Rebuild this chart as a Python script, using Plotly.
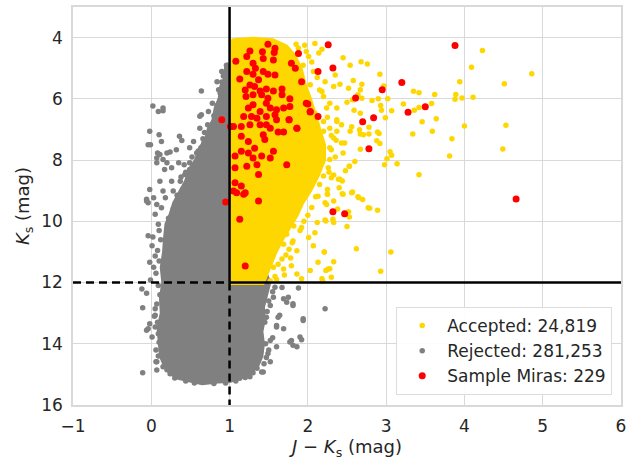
import plotly.graph_objects as go

# Selection thresholds
COLOR_CUT = 1.0   # J - Ks
MAG_CUT = 12.0    # Ks

# Dense core of the rejected sources (outline of the saturated region)
rejected_core_x = [1.0, 0.96, 0.94, 0.90, 0.88, 0.83, 0.80, 0.74, 0.70, 0.63, 0.58, 0.50,
                   0.45, 0.38, 0.30, 0.25, 0.20, 0.18, 0.17, 0.14, 0.16, 0.13, 0.14, 0.10,
                   0.12, 0.13, 0.18, 0.25, 0.35, 0.50, 0.65, 0.85, 1.00, 1.12, 1.25, 1.35,
                   1.40, 1.42, 1.40, 1.43, 1.42, 1.46, 1.50, 1.2, 1.0]
rejected_core_y = [4.85, 5.0, 5.4, 5.6, 6.0, 6.3, 6.7, 7.0, 7.4, 7.6, 8.0, 8.3,
                   8.7, 9.0, 9.4, 9.8, 10.1, 10.6, 11.0, 11.5, 12.0, 12.5, 13.0, 13.5,
                   14.0, 14.4, 14.7, 14.95, 15.1, 15.2, 15.27, 15.22, 15.2, 15.1, 14.95, 14.7,
                   14.4, 14.0, 13.6, 13.2, 12.8, 12.4, 12.0, 10.0, 6.0]

# Isolated rejected sources
rejected_x = [0.02, 0.09, 0.15, 0.15, -0.02, -0.01, 0.10, 0.13, 0.36, 0.39, 0.62, 0.64, 0.78,
              0.84, 0.88, 0.75, 0.49, 0.58, 0.54, 0.08, 0.11, 0.20, 0.24, 0.32, 0.15, 0.07,
              0.20, 0.17, 0.26, 0.35, 0.49, 0.49, 0.43, 0.26, 0.37, 0.11, -0.02, -0.06, 0.03,
              0.07, 0.15, 0.28, 0.18, 0.05, 0.13, 0.09, -0.04, -0.06, -0.04, 0.07, 0.64,
              0.84, 0.90, 0.96, 0.62, 0.73,
              -0.04, 0.02, 0.01, 0.05, -0.02, 0.03, -0.01, -0.12, -0.06, -0.11, 0.05, -0.02,
              -0.04, 0.05, 0.01, 0.09, 0.06, -0.11, -0.06,
              1.52, 1.73, 1.81, 1.94, 1.69, 1.60, 1.62, 1.47, 1.86, 1.92, 1.77, 1.60, 1.52,
              1.49, 1.52, 1.41, 1.26, 1.13, 0.07, 0.07, 0.05,
              1.69, 1.81, 1.94, 1.64, 1.60, 1.79, 1.90, 1.81, 1.43,
              1.67, 1.88, 1.75, 1.56, 2.22,
              0.42, 0.52, 0.60, 0.67, 0.56, 0.46, 0.40, 0.33, 0.28, 0.22, 0.30, 0.38, 0.44,
              0.68, 0.72, 0.80, 0.66, 0.90, 0.92, 0.86,
              0.10, 0.12, 0.08, 0.10, 0.06, 0.09, 0.11, 0.07, 0.04, 0.08, 0.10, 0.06, 0.09,
              0.20, 0.24, 0.30, 0.15, 0.44, 0.55, 0.80, 0.95, 1.08, 1.20, 1.30, 1.35,
              1.47, 1.50, 1.55, 1.45, 1.48, 1.55, 1.58, 1.50, 1.46, 1.44]
rejected_y = [6.23, 6.41, 6.30, 6.39, 7.06, 7.50, 7.17, 7.39, 7.22, 7.36, 6.57, 6.52, 6.14,
              6.22, 5.82, 6.96, 7.60, 7.77, 7.39, 7.77, 7.82, 7.77, 7.74, 7.66, 7.98, 8.09,
              8.09, 8.31, 8.25, 8.09, 8.09, 8.31, 8.47, 8.69, 8.69, 8.69, 8.96, 9.34, 9.23,
              9.45, 9.01, 9.01, 9.23, 9.77, 9.56, 10.10, 7.50, 9.28, 9.39, 7.93, 5.74,
              5.44, 5.11, 4.90, 6.96, 6.41,
              10.47, 10.51, 10.80, 11.13, 11.34, 11.50, 11.92, 12.21, 12.35, 12.82, 12.86, 13.35,
              13.51, 13.45, 13.78, 13.67, 14.59, 14.95, 13.56,
              12.75, 12.64, 12.75, 13.24, 13.51, 13.40, 13.13, 13.13, 14.10, 13.87, 13.94, 14.10, 13.89,
              14.32, 14.59, 14.92, 15.08, 15.13, 14.59, 14.86, 13.07,
              12.53, 12.69, 13.18, 13.07, 13.45, 13.89, 13.78, 14.05, 14.92,
              12.16, 12.18, 12.48, 12.48, 12.86,
              8.15, 7.90, 7.70, 7.45, 8.45, 8.80, 8.95, 9.15, 9.60, 9.90, 9.70, 8.55, 8.40,
              7.10, 6.85, 6.55, 7.30, 5.45, 5.25, 5.70,
              10.30, 10.60, 10.95, 11.30, 11.70, 12.10, 12.40, 12.70, 13.10, 13.30, 13.95, 14.20, 14.40,
              14.85, 14.98, 15.12, 14.75, 15.22, 15.28, 15.30, 15.28, 15.22, 15.10, 14.95, 14.80,
              14.45, 14.20, 13.80, 13.30, 12.95, 12.30, 12.15, 12.60, 14.00, 14.65]

# Dense core of the accepted sources
accepted_core_x = [1.0, 1.05, 1.3, 1.55, 1.72, 1.82, 1.90, 1.95, 2.02, 2.08, 2.15, 2.20,
                   2.20, 2.12, 2.02, 1.92, 1.85, 1.75, 1.66, 1.58, 1.52, 1.47, 1.42, 1.0]
accepted_core_y = [4.2, 4.1, 4.05, 4.1, 4.3, 4.6, 5.0, 5.5, 6.0, 6.5, 7.0, 7.5,
                   8.0, 8.5, 9.0, 9.4, 9.8, 10.2, 10.6, 11.0, 11.4, 11.7, 12.0, 12.0]

# Isolated accepted sources
accepted_x = [4.23, 4.09, 4.86, 4.51, 3.94, 3.89, 3.88, 3.97, 4.11, 4.53, 4.49, 4.00, 3.84,
              3.81, 3.42, 3.64, 3.59, 3.58, 3.62, 3.35, 3.42, 3.22, 3.36, 3.42, 3.46, 3.34,
              3.07, 3.02, 2.99, 2.97, 2.92, 2.93, 2.94, 2.90, 2.82, 2.91, 2.92, 2.88, 3.05,
              3.07, 3.01, 2.98, 3.14, 2.78, 2.78, 2.71, 2.67, 2.66, 2.67, 2.56, 2.53, 2.76,
              2.68, 2.54, 2.45, 2.58, 2.69, 2.67, 2.69, 2.59, 2.59, 2.67, 2.89,
              2.57, 2.44, 2.65, 2.70, 2.77, 2.79, 2.89, 2.53, 2.52, 2.50, 2.39, 2.44, 2.33,
              2.25, 2.33, 2.22, 2.25, 2.23, 2.32,
              2.21, 2.62, 3.06, 2.93, 2.33, 2.28, 2.23, 2.19,
              2.13, 2.25, 2.24, 2.12, 2.22, 2.33, 2.09, 2.01, 1.92, 1.82, 2.21, 2.13, 2.26,
              2.03, 1.86, 1.79, 1.69, 1.67, 1.56, 1.76, 1.69, 1.64, 1.73, 1.81, 1.86, 2.07,
              2.30, 2.18, 1.92,
              2.09, 2.18, 2.35, 2.41, 2.52, 2.64, 2.57, 2.50, 2.37, 2.28, 2.20, 2.15, 2.37,
              2.43, 2.54, 2.37, 2.28, 2.20, 2.33, 2.47, 2.45, 2.30, 2.28, 2.26, 2.30, 2.20,
              2.41, 2.53, 2.45, 2.56, 2.64,
              2.01, 1.94, 2.07, 2.22, 2.18, 2.33, 2.03, 1.98, 2.09, 2.24, 2.37, 2.43, 2.20,
              2.18,
              1.88, 1.98, 2.05, 2.12, 2.25, 2.30, 2.35, 2.27, 2.15, 2.10, 2.05, 2.00, 1.95,
              1.90, 1.80, 1.72, 1.62, 1.58, 1.70, 1.78, 1.60, 1.52, 2.40, 2.48, 2.60, 2.38,
              2.14, 1.96, 1.85, 2.28, 2.36]
accepted_y = [4.42, 4.97, 5.18, 5.51, 5.44, 5.86, 6.01, 5.97, 5.95, 6.86, 7.64, 6.89, 7.30,
              7.87, 8.48, 6.65, 7.06, 6.15, 5.86, 5.75, 5.80, 6.17, 6.37, 6.28, 6.75, 7.15,
              6.39, 6.00, 6.62, 5.58, 5.20, 6.22, 6.37, 6.00, 6.05, 7.13, 7.46, 7.37, 7.73,
              7.84, 7.96, 8.15, 8.12, 6.93, 7.15, 7.17, 7.15, 7.01, 7.65, 6.91, 8.20, 4.86,
              4.79, 4.90, 4.66, 5.40, 5.52, 5.70, 5.98, 6.03, 6.37, 6.47, 7.08,
              9.04, 9.10, 9.23, 9.29, 9.56, 9.57, 9.64, 9.86, 9.69, 10.17, 8.63, 8.68, 8.49,
              8.96, 9.34, 9.39, 9.12, 9.99, 9.93,
              11.00, 10.90, 11.00, 11.63, 11.32, 11.55, 11.61, 11.96,
              9.18, 9.12, 9.45, 10.04, 9.96, 10.04, 10.37, 10.53, 10.20, 10.15, 11.00, 11.34, 11.56,
              11.61, 11.72, 11.45, 11.56, 11.23, 11.50, 10.91, 10.75, 10.53, 10.42, 10.64, 10.96, 10.80,
              11.83, 11.88, 11.88,
              4.19, 4.38, 5.22, 5.52, 5.65, 5.87, 6.03, 6.11, 6.30, 6.14, 5.92, 5.71, 6.68,
              6.85, 7.06, 7.06, 6.96, 6.74, 7.28, 7.44, 7.77, 7.66, 7.98, 8.25, 8.58, 8.52,
              8.63, 8.20, 9.12, 9.07, 9.20,
              4.62, 4.90, 5.11, 5.44, 5.76, 5.60, 5.54, 6.03, 6.47, 6.30, 6.74, 7.44, 7.06,
              7.39,
              4.35, 4.45, 4.80, 5.30, 6.60, 7.20, 7.90, 8.40, 8.80, 9.20, 9.55, 9.80, 10.00,
              10.30, 10.70, 11.10, 11.40, 11.80, 11.75, 11.20, 11.90, 11.95, 8.90, 8.35, 8.05, 9.60,
              4.50, 4.25, 4.22, 7.60, 7.35]

# Sample Miras
miras_x = [1.49, 1.26, 1.42, 1.58, 1.57, 1.88, 1.08, 1.22, 1.30, 1.43, 1.56, 1.79, 1.84,
           1.33, 1.22, 1.30, 1.43, 1.49, 1.58, 1.13, 1.37, 1.26, 1.20, 1.32, 1.39, 1.47,
           1.56, 1.67, 1.21, 1.30, 1.41, 1.49, 1.67, 1.77, 1.92, 2.13, 1.77, 1.24, 1.30,
           1.39, 1.47, 1.52, 1.60, 1.69, 1.18, 1.28, 1.35, 1.47, 1.58, 1.60, 1.76, 1.98,
           2.03, 2.13, 1.86, 1.05, 1.15, 1.26, 1.39, 1.47, 1.52, 1.62, 1.69, 1.15, 1.24,
           1.43, 1.45, 1.56, 1.32, 1.24, 1.15, 1.07, 1.41, 1.30, 1.52, 1.07, 1.22, 1.35,
           1.73, 1.37, 1.07, 1.15, 1.05, 1.20, 1.37, 1.13, 0.90, 0.95, 1.01,
           1.09, 1.18, 1.20, 2.32, 2.47,
           2.26, 3.88, 2.32, 3.20, 2.95, 2.61, 3.50, 3.28, 2.70, 2.84, 2.78, 4.66,
           2.00, 2.03, 1.86, 1.76]
miras_y = [4.22, 4.44, 4.46, 4.35, 4.49, 4.52, 4.77, 4.62, 4.84, 4.68, 4.73, 4.84, 5.00,
           5.00, 5.11, 5.20, 5.11, 5.20, 5.22, 5.35, 5.38, 5.55, 5.71, 5.60, 5.74, 5.68,
           5.74, 5.68, 5.92, 5.87, 5.87, 5.98, 5.87, 6.00, 5.44, 5.11, 6.25, 6.30, 6.19,
           6.41, 6.14, 6.30, 6.36, 6.30, 6.58, 6.58, 6.63, 6.58, 6.52, 6.68, 6.68, 6.14,
           6.41, 6.58, 6.96, 6.90, 6.90, 6.85, 6.85, 6.85, 6.96, 7.08, 7.08, 7.22, 7.39,
           7.17, 7.33, 7.71, 7.61, 7.77, 7.71, 7.87, 7.87, 7.93, 7.93, 8.25, 8.20, 8.15,
           8.15, 8.47, 8.74, 8.85, 9.01, 9.07, 9.34, 9.93, 6.68, 9.37, 6.90,
           9.07, 9.12, 11.46, 9.69, 9.75,
           4.23, 4.26, 4.99, 5.47, 5.70, 5.97, 6.26, 6.44, 6.75, 6.62, 7.63, 9.27,
           6.17, 6.43, 6.96, 6.68]

GOLD = "#FFD700"
GREY = "#808080"
RED = "#FF0000"
FONT = "DejaVu Sans, sans-serif"
INK = "#262626"

fig = go.Figure()

# Rejected: saturated core + isolated points
fig.add_trace(go.Scatter(x=rejected_core_x, y=rejected_core_y, mode="lines", fill="toself",
                         fillcolor=GREY, line=dict(color=GREY, width=5), showlegend=False,
                         hoverinfo="skip"))
fig.add_trace(go.Scatter(x=rejected_x, y=rejected_y, mode="markers", name="Rejected: 281,253",
                         marker=dict(color=GREY, size=5.5), legendrank=2))

# Accepted: saturated core + isolated points
fig.add_trace(go.Scatter(x=accepted_core_x, y=accepted_core_y, mode="lines", fill="toself",
                         fillcolor=GOLD, line=dict(color=GOLD, width=5), showlegend=False,
                         hoverinfo="skip"))
fig.add_trace(go.Scatter(x=accepted_x, y=accepted_y, mode="markers", name="Accepted: 24,819",
                         marker=dict(color=GOLD, size=5.5), legendrank=1))

# Sample Miras
fig.add_trace(go.Scatter(x=miras_x, y=miras_y, mode="markers", name="Sample Miras: 229",
                         marker=dict(color=RED, size=7), legendrank=3))

# Selection box: solid edges on the accepted side, dashed on the rejected side
cut_line = dict(color="black", width=2.5)
cut_dash = dict(color="black", width=2.5, dash="8px,5px")
fig.add_shape(type="line", x0=COLOR_CUT, x1=COLOR_CUT, y0=MAG_CUT, y1=3, line=cut_line, layer="above")
fig.add_shape(type="line", x0=COLOR_CUT, x1=6, y0=MAG_CUT, y1=MAG_CUT, line=cut_line, layer="above")
fig.add_shape(type="line", x0=-1, x1=COLOR_CUT, y0=MAG_CUT, y1=MAG_CUT, line=cut_dash, layer="above")
fig.add_shape(type="line", x0=COLOR_CUT, x1=COLOR_CUT, y0=MAG_CUT, y1=16, line=cut_dash, layer="above")

axis_common = dict(showgrid=True, gridcolor="#d9d9d9", gridwidth=1, zeroline=False,
                   showline=True, linecolor="#d9d9d9", linewidth=1.5, mirror=True,
                   tickfont=dict(family=FONT, size=17, color=INK), ticks="")

fig.update_xaxes(range=[-1, 6], tick0=0, dtick=1, ticklabelstandoff=5,
                 title=dict(text="<i>J</i> − <i>K</i><sub>s</sub> (mag)",
                            font=dict(family=FONT, size=18, color=INK), standoff=5),
                 **axis_common)
fig.update_yaxes(range=[16, 3], tick0=0, dtick=2, ticklabelstandoff=5,
                 title=dict(text="<i>K</i><sub>s</sub> (mag)",
                            font=dict(family=FONT, size=18, color=INK), standoff=7),
                 **axis_common)

fig.update_layout(
    width=641, height=460,
    margin=dict(l=73, r=20, t=5, b=55),
    plot_bgcolor="white", paper_bgcolor="white",
    legend=dict(x=0.984, y=0.025, xanchor="right", yanchor="bottom",
                bgcolor="rgba(255,255,255,0.9)", bordercolor="#dddddd", borderwidth=1,
                font=dict(family=FONT, size=17, color=INK), itemwidth=40),
    showlegend=True,
)

fig.write_html("out.html")
